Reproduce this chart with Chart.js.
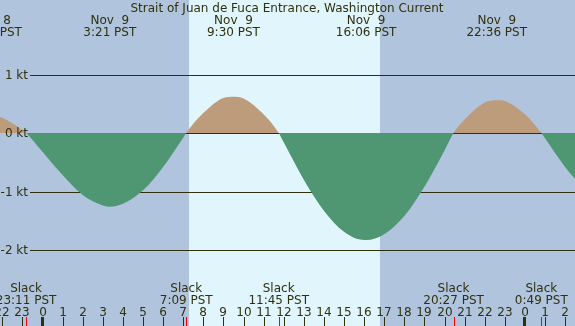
<!DOCTYPE html>
<html>
<head>
<meta charset="utf-8">
<script src="https://cdn.jsdelivr.net/npm/chart.js"></script>
<style>
  html, body { margin: 0; padding: 0; background: #b0c4de; }
  #wrap { width: 575px; height: 326px; }
</style>
</head>
<body>
<div id="wrap"><canvas id="c" width="575" height="326"></canvas></div>
<script>
// hours from midnight Nov 9, current in knots
const curveHours = [-3, -2.54, -2, -1, -0.817, 0, 1, 2, 3, 3.35, 4, 5, 6, 7, 7.15, 8, 9, 9.5, 10, 11, 11.75,
  12, 13, 14, 15, 16, 16.1, 17, 18, 19, 20, 20.45, 21, 22, 22.6, 23, 24, 24.817, 25, 26, 27];
const curveSpeed = [0.27, 0.30, 0.26, 0.05, 0, -0.32, -0.72, -1.06, -1.24, -1.26, -1.21, -0.98, -0.58, -0.08, 0,
  0.34, 0.60, 0.62, 0.59, 0.32, 0, -0.16, -0.80, -1.33, -1.69, -1.83, -1.83, -1.73, -1.42, -0.92, -0.30, 0,
  0.23, 0.52, 0.56, 0.545, 0.32, 0, -0.09, -0.58, -0.98];

const eventKind = ['max', 'slack', 'max', 'slack', 'max', 'slack', 'max', 'slack', 'max', 'slack'];
const eventDay = [8, 8, 9, 9, 9, 9, 9, 9, 9, 10];
const eventClock = ['21:28', '23:11', '3:21', '7:09', '9:30', '11:45', '16:06', '20:27', '22:36', '0:49'];

const sunrise = '7:17';
const sunset = '16:47';
const kts = [1, 0, -1, -2];
const hourTicks = [-2, -1, 0, 1, 2, 3, 4, 5, 6, 7, 8, 9, 10, 11, 12, 13, 14, 15, 16, 17, 18, 19, 20, 21, 22, 23, 24, 25, 26];

const title = 'Strait of Juan de Fuca Entrance, Washington Current';

const NIGHT = '#b0c4de';
const DAY = '#e0f6fc';
const FLOOD = '#bd9c7b';
const EBB = '#4f9672';
const INK = '#30300e';
const FONT = '12px "DejaVu Sans"';

function toHours(clock, day) {
  const [h, m] = clock.split(':').map(Number);
  return (day - 9) * 24 + h + m / 60;
}

const tidePlugin = {
  id: 'tide',
  beforeDatasetsDraw(chart) {
    const { ctx, scales: { x, y }, chartArea: a } = chart;
    ctx.save();
    ctx.fillStyle = NIGHT;
    ctx.fillRect(0, 0, chart.width, chart.height);
    const x0 = x.getPixelForValue(toHours(sunrise, 9));
    const x1 = x.getPixelForValue(toHours(sunset, 9));
    ctx.fillStyle = DAY;
    ctx.fillRect(Math.round(x0), 0, Math.round(x1) - Math.round(x0), chart.height);
    ctx.fillStyle = INK;
    for (const k of kts) {
      ctx.fillRect(30, Math.round(y.getPixelForValue(k)), a.right - 30, 1);
    }
    ctx.restore();
  },
  afterDatasetsDraw(chart) {
    const { ctx, scales: { x, y } } = chart;
    ctx.save();
    ctx.font = FONT;
    ctx.fillStyle = INK;
    ctx.textBaseline = 'alphabetic';

    ctx.textAlign = 'center';
    ctx.fillText(title, 287, 12);

    // y labels
    ctx.textAlign = 'right';
    ctx.textBaseline = 'middle';
    for (const k of kts) {
      ctx.fillText(k + ' kt', 28, Math.round(y.getPixelForValue(k)) + 1);
    }

    // event labels
    ctx.textAlign = 'center';
    ctx.textBaseline = 'alphabetic';
    eventClock.forEach((c, i) => {
      const px = x.getPixelForValue(toHours(c, eventDay[i]));
      if (eventKind[i] === 'max') {
        ctx.fillText('Nov  ' + eventDay[i], px, 24);
        ctx.fillText(c + ' PST', px, 36);
      } else {
        ctx.fillText('Slack', px, 292);
        ctx.fillText(c + ' PST', px, 304);
      }
    });

    // hour ticks
    for (const h of hourTicks) {
      const px = Math.round(x.getPixelForValue(h));
      const lbl = ((h % 24) + 24) % 24;
      ctx.fillStyle = INK;
      ctx.fillText(String(lbl), px, 316);
      if (lbl === 0) ctx.fillRect(px - 2, 317, 3, 9);
      else ctx.fillRect(px, 317, 1, 9);
    }
    ctx.fillStyle = '#ff0000';
    eventClock.forEach((c, i) => {
      if (eventKind[i] !== 'slack') return;
      const px = Math.round(x.getPixelForValue(toHours(c, eventDay[i])));
      ctx.fillRect(px, 317, 1, 9);
    });
    ctx.restore();
  }
};

const pxPerHour = 20.1;
const pxPerKt = 58.5;
const xMin = -42.5 / pxPerHour;
const xMax = xMin + 575 / pxPerHour;
const yMax = 133 / pxPerKt;
const yMin = -(326 - 133) / pxPerKt;

new Chart(document.getElementById('c'), {
  type: 'line',
  data: {
    datasets: [{
      data: curveHours.map((h, i) => ({ x: h, y: curveSpeed[i] })),
      borderColor: 'rgba(0,0,0,0)',
      borderWidth: 0,
      pointRadius: 0,
      cubicInterpolationMode: 'monotone',
      fill: { target: 'origin', above: FLOOD, below: EBB }
    }]
  },
  options: {
    responsive: false,
    animation: false,
    layout: { padding: 0 },
    plugins: { legend: { display: false }, tooltip: { enabled: false }, title: { display: false } },
    scales: {
      x: { type: 'linear', display: false, min: xMin, max: xMax },
      y: { type: 'linear', display: false, min: yMin, max: yMax }
    }
  },
  plugins: [tidePlugin]
});
</script>
</body>
</html>
